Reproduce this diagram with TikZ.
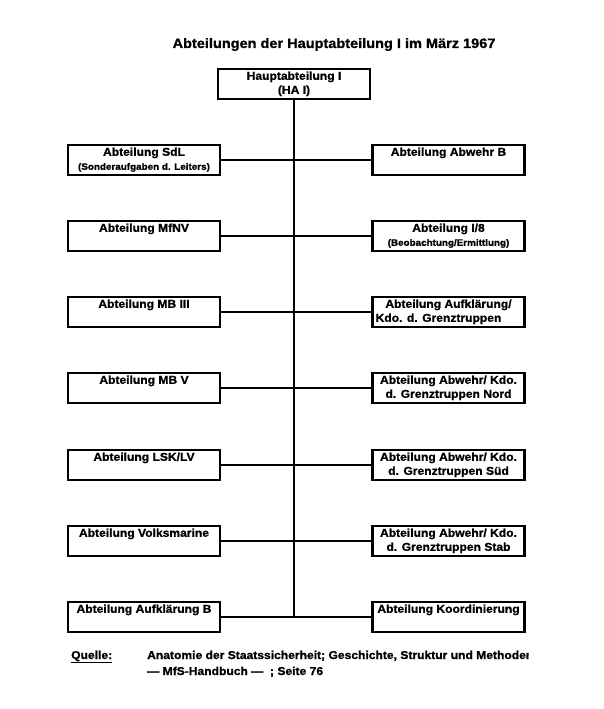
\documentclass[tikz,border=0pt]{standalone}
\usepackage{fontspec}
\setmainfont{Liberation Sans}[FakeStretch=1.06, BoldFeatures={FakeBold=1.0}]
\newcommand\smalltxt{\fontsize{9.3}{14}\selectfont}
\begin{document}
\begin{tikzpicture}[x=1pt,y=-1pt,
  unit/.style={draw, line width=2.6pt, inner sep=0pt, minimum width=152pt,
    minimum height=30pt, align=center, font=\fontsize{11.4}{14}\selectfont\bfseries},
  conn/.style={line width=2pt},
  plain/.style={font=\fontsize{11.4}{14}\selectfont\bfseries, inner sep=0pt}]
\path[use as bounding box, fill=white] (0,0) rectangle (604,709);

\node[anchor=base, inner sep=0pt, font=\fontsize{13.7}{16}\selectfont\bfseries] (title) at (334,48)
  {Abteilungen der Hauptabteilung I im März 1967};

\node[unit] (top) at (294,84) {\strut Hauptabteilung I\\\strut (HA I)};

% left column
\node[unit] (l1) at (144,160) {\strut Abteilung SdL\\\strut\smalltxt (Sonderaufgaben d. Leiters)};
\node[unit] (l2) at (144,236) {\strut Abteilung MfNV\\\strut};
\node[unit] (l3) at (144,312) {\strut Abteilung MB III\\\strut};
\node[unit] (l4) at (144,388) {\strut Abteilung MB V\\\strut};
\node[unit] (l5) at (144,465) {\strut Abteilung LSK/LV\\\strut};
\node[unit] (l6) at (144,541) {\strut Abteilung Volksmarine\\\strut};
\node[unit] (l7) at (144,617) {\strut Abteilung Aufklärung B\\\strut};

% right column
\node[unit] (r1) at (448.5,160) {\strut Abteilung Abwehr B\\\strut};
\node[unit] (r2) at (448.5,236) {\strut Abteilung I/8\\\strut\smalltxt (Beobachtung/Ermittlung)};
\node[unit] (r3) at (448.5,312) {\strut Abteilung Aufklärung/\\\strut Kdo. d. Grenztruppen\hspace*{20pt}};
\node[unit] (r4) at (448.5,388) {\strut Abteilung Abwehr/ Kdo.\\\strut d. Grenztruppen Nord};
\node[unit] (r5) at (448.5,465) {\strut Abteilung Abwehr/ Kdo.\\\strut d. Grenztruppen Süd};
\node[unit] (r6) at (448.5,541) {\strut Abteilung Abwehr/ Kdo.\\\strut d. Grenztruppen Stab};
\node[unit] (r7) at (448.5,617) {\strut Abteilung Koordinierung\\\strut};

% connectors
\draw[conn] (top.south) -- (top.south |- l7.east);
\foreach \i in {1,...,7}{
  \draw[conn] (l\i.east) -- (l\i.east -| top.south);
  \draw[conn] (r\i.west) -- (r\i.west -| top.south);
}

% source
\node[plain, anchor=base west] (src) at (71,659) {\underline{Quelle:}};
\begin{scope}
  \clip (140,640) rectangle (528.5,668);
  \node[plain, anchor=base west] (ref1) at (147,659) {Anatomie der Staatssicherheit; Geschichte, Struktur und Methoden};
\end{scope}
\node[plain, anchor=base west] (ref2) at (147,675) {— MfS-Handbuch —\ \ ; Seite 76};
\end{tikzpicture}
\end{document}
